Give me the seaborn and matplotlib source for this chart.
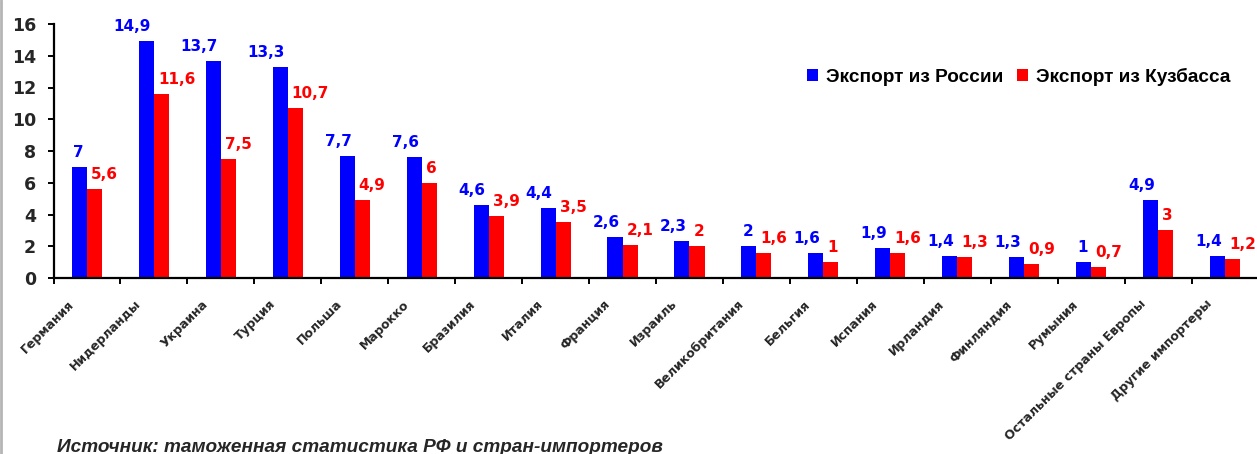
import matplotlib
matplotlib.use("Agg")
import matplotlib.pyplot as plt
import matplotlib.transforms as mtransforms
from matplotlib.lines import Line2D
from matplotlib.patches import Patch
import seaborn as sns
import pandas as pd
import numpy as np

categories = ["Германия", "Нидерланды", "Украина", "Турция", "Польша", "Марокко",
              "Бразилия", "Италия", "Франция", "Израиль", "Великобритания", "Бельгия",
              "Испания", "Ирландия", "Финляндия", "Румыния", "Остальные страны Европы",
              "Другие импортеры"]
russia = [7, 14.9, 13.7, 13.3, 7.7, 7.6, 4.6, 4.4, 2.6, 2.3, 2, 1.6, 1.9, 1.4, 1.3, 1, 4.9, 1.4]
kuzbass = [5.6, 11.6, 7.5, 10.7, 4.9, 6, 3.9, 3.5, 2.1, 2, 1.6, 1, 1.6, 1.3, 0.9, 0.7, 3, 1.2]
series_names = ["Экспорт из России", "Экспорт из Кузбасса"]
yticks = [0, 2, 4, 6, 8, 10, 12, 14, 16]
source_text = "Источник: таможенная статистика РФ и стран-импортеров"

colors = ["#0000FF", "#FF0000"]

df = pd.DataFrame({
    "cat": categories * 2,
    "val": russia + kuzbass,
    "series": [series_names[0]] * len(categories) + [series_names[1]] * len(categories),
})

sns.set_theme(style="white")
plt.rcParams["font.family"] = ["DejaVu Sans"]

fig = plt.figure(figsize=(12.57, 4.54), dpi=100)
ax = fig.add_axes([53.5 / 1257, 1 - 278 / 454, (1258.5 - 53.5) / 1257, (278 - 24) / 454])

sns.barplot(data=df, x="cat", y="val", hue="series", hue_order=series_names,
            palette=colors, width=0.45, ax=ax, legend=False, saturation=1,
            linewidth=0, order=categories)

ax.set_ylim(0, 16)
ax.set_xlim(-0.5, len(categories) - 0.5)
ax.set_xlabel("")
ax.set_ylabel("")

for side in ["top", "right"]:
    ax.spines[side].set_visible(False)
for side in ["left", "bottom"]:
    ax.spines[side].set_color("black")
    ax.spines[side].set_linewidth(1.6)

ax.set_yticks(yticks)
ax.set_yticklabels([str(v) for v in yticks], fontsize=12.5, fontweight="bold")
ax.tick_params(axis="y", direction="out", length=4.5, width=1.4, color="black", pad=8, left=True)

ax.set_xticks(np.arange(len(categories)))
ax.set_xticks(np.arange(len(categories) + 1) - 0.5, minor=True)
ax.set_xticklabels(categories, rotation=45, ha="right", fontsize=9, fontweight="bold")
ax.tick_params(axis="x", which="major", length=0, pad=14)
ax.tick_params(axis="x", which="minor", direction="out", length=4.5, width=1.4, color="black", bottom=True)
offset = mtransforms.ScaledTranslation(-10 / 100, 0, fig.dpi_scale_trans)
for lbl in ax.get_xticklabels():
    lbl.set_transform(lbl.get_transform() + offset)

def fmt(v):
    s = ("%g" % v).replace(".", ",")
    return s

for ci, cont in enumerate(ax.containers):
    for bar in cont:
        h = bar.get_height()
        if ci == 0:
            x = bar.get_x() + bar.get_width()
            ax.annotate(fmt(h), (x, h), xytext=(-3, 10), textcoords="offset pixels",
                        ha="right", va="baseline", fontsize=11, fontweight="bold",
                        color=colors[0])
        else:
            x = bar.get_x()
            ax.annotate(fmt(h), (x, h), xytext=(4, 10), textcoords="offset pixels",
                        ha="left", va="baseline", fontsize=11, fontweight="bold",
                        color=colors[1])

handles = [Patch(facecolor=colors[0], edgecolor="none"), Patch(facecolor=colors[1], edgecolor="none")]
leg = ax.legend(handles, series_names, ncol=2, frameon=False, loc="center left",
                bbox_to_anchor=(807 / 1257, 1 - 77 / 454), bbox_transform=fig.transFigure,
                borderaxespad=0, borderpad=0, handlelength=0.6, handleheight=0.6,
                handletextpad=0.4, columnspacing=0.7,
                prop={"family": "Liberation Sans", "weight": "bold", "size": 13.7})
for t in leg.get_texts():
    t.set_color("black")

fig.text(57 / 1257, 2.0 / 454, source_text, fontsize=13.7, fontweight="bold",
         style="italic", family="Liberation Sans", ha="left", va="baseline")

fig.add_artist(Line2D([1 / 1257, 1 / 1257], [0, 1], transform=fig.transFigure,
                      color="#b5b5b5", linewidth=2))

fig.savefig("out.png", dpi=100)
